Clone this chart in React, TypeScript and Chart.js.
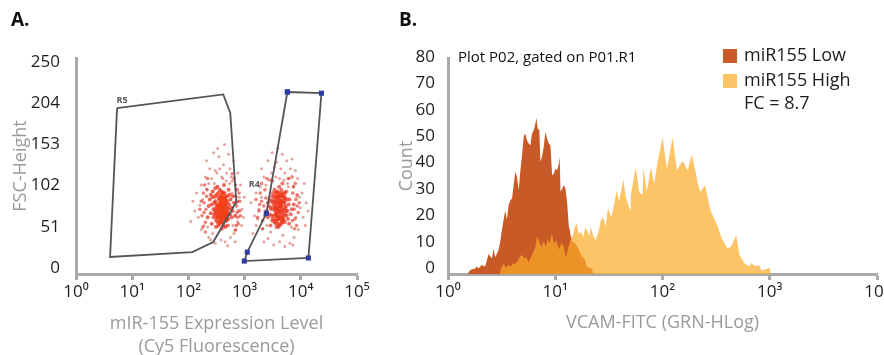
import React, { useEffect, useRef } from 'react';
import { Chart, registerables } from 'chart.js';

Chart.register(...registerables);

const FONT = '"Open Sans", "Noto Sans", "DejaVu Sans", sans-serif';
const AXIS_GREY = '#a9a9a9';
const TITLE_GREY = '#9a9a9a';
const TICK_BLACK = '#1e1e1e';

// ---------- Panel A : scatter (mIR-155 expression vs FSC-Height) ----------
const expressionTicks = [1, 10, 100, 1000, 10000, 100000];
const expressionTickLabels = ['10⁰', '10¹', '10²', '10³', '10⁴', '10⁵'];
const fscTicks = [0, 51, 102, 153, 204, 255];
const fscTickLabels = ['0', '51', '102', '153', '204', '250'];

// low-expression population (x: Cy5 fluorescence, y: FSC-Height)
const lowPopulationCenter: [number, number][] = [
  [330, 80], [360, 74], [395, 84], [425, 78], [455, 86], [480, 72], [350, 94], [410, 90], [440, 66], [370, 68],
  [320, 86], [390, 72], [460, 96], [500, 82], [340, 100], [420, 70], [380, 92], [470, 78], [310, 76], [430, 84],
  [360, 88], [405, 66], [450, 92], [395, 98], [345, 70], [485, 90], [415, 80], [375, 82], [335, 64], [440, 76],
  [300, 96], [510, 74], [365, 78], [425, 94], [455, 70], [390, 88], [350, 84], [475, 66], [410, 74], [320, 70],
];
const lowPopulationCore: [number, number][] = [
  [300, 78], [350, 85], [410, 72], [460, 90], [380, 64], [520, 80], [270, 95], [330, 70], [440, 100], [390, 88],
  [250, 75], [480, 68], [560, 92], [310, 58], [420, 82], [360, 104], [290, 88], [500, 60], [400, 95], [340, 76],
  [450, 74], [230, 84], [610, 78], [370, 66], [430, 110], [280, 70], [530, 86], [320, 98], [470, 80], [390, 56],
  [260, 62], [350, 92], [410, 64], [590, 70], [300, 106], [440, 86], [380, 78], [490, 96], [240, 92], [330, 84],
  [460, 66], [360, 72], [520, 104], [280, 80], [420, 94], [650, 88], [310, 66], [400, 76], [550, 74], [270, 102],
  [370, 96], [480, 88], [340, 60], [430, 70], [220, 70], [300, 90], [510, 68], [390, 102], [450, 58], [350, 80],
  [620, 96], [260, 86], [420, 60], [370, 84], [330, 108], [470, 74], [290, 74], [540, 98], [400, 86], [310, 82],
  [440, 92], [360, 62], [580, 82], [250, 98], [490, 76], [380, 70], [410, 100], [320, 74], [680, 72], [460, 84],
];
const lowPopulationFlank: [number, number][] = [
  [175, 72], [190, 88], [200, 64], [185, 100], [205, 80], [195, 110], [180, 58], [210, 96], [170, 90], [200, 52],
  [215, 104], [190, 76], [720, 84], [760, 70], [700, 96], [790, 78], [740, 104], [710, 60], [820, 90], [690, 110],
  [770, 62], [730, 76], [800, 100], [680, 54], [750, 90], [160, 80], [840, 72], [220, 118], [650, 118], [600, 124],
];
const lowPopulationHalo: [number, number][] = [
  [150, 70], [180, 92], [200, 120], [170, 55], [210, 140], [240, 130], [280, 150], [350, 145], [420, 135], [480, 125],
  [600, 115], [700, 105], [800, 95], [900, 80], [750, 65], [650, 50], [560, 45], [450, 40], [380, 42], [300, 38],
  [230, 45], [190, 60], [160, 85], [130, 78], [140, 100], [260, 118], [320, 125], [390, 120], [550, 130], [620, 60],
  [720, 88], [850, 110], [950, 70], [680, 40], [500, 35], [270, 50], [210, 105], [120, 90], [330, 155], [440, 160],
  [520, 148], [360, 130], [290, 112], [580, 120], [760, 125], [880, 60], [980, 95], [230, 112], [170, 110], [640, 140],
  [410, 118], [300, 128], [470, 115], [540, 112], [220, 58], [600, 100], [700, 55], [250, 42], [830, 78], [110, 65],
];
// high-expression population
const highPopulationCenter: [number, number][] = [
  [3500, 82], [3900, 76], [4300, 86], [4700, 78], [5100, 90], [3700, 94], [4100, 70], [4500, 98], [3300, 72], [4900, 66],
  [3600, 88], [4000, 84], [4400, 74], [5300, 82], [3800, 102], [4200, 92], [4600, 64], [3400, 96], [5000, 72], [3900, 68],
  [4300, 100], [3700, 80], [4800, 88], [3500, 66], [4100, 96], [5200, 100], [3600, 74], [4400, 84], [4000, 62], [4700, 70],
  [3200, 88], [5500, 78], [3800, 90], [4500, 80], [4200, 68], [3600, 100], [4900, 94], [4000, 78], [3400, 80], [4600, 90],
];
const highPopulationCore: [number, number][] = [
  [3600, 74], [4200, 88], [3100, 66], [5000, 80], [2800, 92], [4500, 62], [3900, 100], [5600, 72], [3300, 84], [4700, 96],
  [2600, 70], [6100, 86], [3700, 58], [4300, 76], [5300, 94], [3000, 80], [4100, 108], [3500, 90], [4900, 68], [2900, 60],
  [5800, 78], [3800, 82], [4400, 70], [3200, 100], [5100, 88], [2700, 84], [6600, 74], [4000, 94], [3400, 64], [4600, 84],
  [5500, 102], [3000, 72], [4800, 76], [3700, 96], [4200, 60], [6300, 92], [2500, 78], [3900, 72], [5200, 64], [3300, 92],
  [4500, 104], [3600, 86], [5900, 68], [2800, 74], [4100, 80], [4700, 112], [3100, 96], [5400, 84], [3800, 66], [4400, 90],
  [6900, 80], [3500, 78], [4000, 58], [2600, 88], [5000, 96], [3200, 68], [4300, 84], [5700, 92], [3700, 70], [4800, 100],
  [2900, 82], [4600, 66], [3400, 104], [6200, 62], [3900, 88], [5300, 74], [3000, 90], [4200, 96], [7500, 86], [3600, 62],
];
const highPopulationFlank: [number, number][] = [
  [1800, 78], [2000, 90], [2100, 66], [1900, 100], [2200, 84], [2300, 104], [1700, 70], [2100, 56], [2400, 94], [2000, 112],
  [2300, 72], [1850, 86], [7600, 80], [8200, 92], [7900, 68], [8700, 84], [7200, 100], [8400, 60], [7400, 108], [9000, 76],
  [8000, 112], [7700, 56], [8600, 98], [7100, 66], [9400, 88], [1600, 92], [2500, 118], [7000, 120], [6000, 118], [3000, 116],
];
const highPopulationHalo: [number, number][] = [
  [1400, 50], [1700, 68], [2000, 95], [2200, 120], [2600, 140], [3100, 150], [3700, 138], [4400, 130], [5200, 125], [6200, 118],
  [7400, 108], [8500, 96], [9800, 82], [11000, 70], [9000, 55], [7600, 45], [6400, 38], [5200, 34], [4200, 40], [3300, 36],
  [2600, 44], [2100, 56], [1800, 80], [1500, 72], [1600, 100], [2400, 110], [3000, 125], [3600, 120], [5600, 140], [6800, 58],
  [8000, 128], [10500, 100], [12500, 88], [7200, 36], [4800, 48], [2900, 52], [2300, 78], [1300, 88], [3900, 155], [4700, 148],
  [5800, 112], [3400, 132], [2700, 116], [6000, 108], [8800, 118], [12000, 60], [13500, 78], [2000, 130], [1900, 108], [7000, 142],
  [4200, 118], [3200, 115], [5000, 116], [8200, 70], [2500, 60], [9500, 95], [1600, 60], [11500, 112], [2200, 40], [6500, 130],
];
// gate polygons (vertices, closed)
const gateR5: [number, number][] = [
  [5.38, 205], [417, 222], [556, 199], [711, 89], [277, 39.5], [117, 27], [4.04, 21], [5.38, 205],
];
const gateR4: [number, number][] = [
  [5770, 225], [23300, 223.5], [13650, 19.8], [988, 16], [1117, 27], [2437, 75], [5770, 225],
];
const gateLabels = [
  { text: 'R5', x: 6.6, y: 214 },
  { text: 'R4', x: 1490, y: 111 },
];

// ---------- Panel B : histogram (VCAM-FITC) ----------
const vcamTicks = [1, 10, 100, 1000, 10000];
const vcamTickLabels = ['10⁰', '10¹', '10²', '10³', '10⁴'];
const countTicks = [0, 10, 20, 30, 40, 50, 60, 70, 80];

const lowBinX = [
  1.52, 1.61, 1.79, 1.86, 1.92, 2.07, 2.22, 2.39, 2.57, 2.66,
  2.76, 2.96, 3.07, 3.18, 3.30, 3.42, 3.54, 3.67, 3.81, 3.95,
  4.09, 4.24, 4.40, 4.56, 4.72, 4.90, 5.08, 5.26, 5.45, 5.65,
  5.86, 6.07, 6.30, 6.53, 6.67, 6.86, 7.11, 7.27, 7.53, 7.81,
  8.09, 8.39, 8.70, 9.02, 9.35, 9.69, 10.04, 10.41, 10.79, 11.0,
  11.19, 11.60, 12.02, 12.46, 12.92, 13.39, 13.66, 13.88, 14.39, 15.46,
  16.61, 17.85, 18.8, 19.6, 21.36, 22.14, 22.5,
];
const lowCounts = [
  0, 1.5, 2.1, 2.8, 2.1, 3.4, 2.8, 7.6, 5.9, 9.7,
  6.4, 9.1, 12.2, 16.7, 20.5, 24.2, 20.5, 26.1, 28.0, 28.7,
  33.7, 38.8, 36.9, 31.8, 38.8, 45.2, 52.1, 53.3, 50.8, 49.5,
  48.9, 53.3, 54.6, 57.1, 59.3, 55.2, 54.6, 42.6, 44.5, 48.3,
  54.0, 51.4, 49.5, 48.9, 37.5, 38.1, 40.0, 39.4, 41.9, 44.5,
  31.2, 32.4, 33.7, 32.4, 26.8, 17.9, 16.7, 14.8, 12.2, 11.6,
  9.1, 6.4, 5.9, 2.8, 2.1, 1.8, 0,
];
const highBinX = [
  3.05, 3.13, 3.30, 3.47, 3.67, 3.87, 4.03, 4.24, 4.46, 4.72,
  4.93, 5.15, 5.37, 5.65, 5.94, 6.20, 6.53, 6.77, 7.03, 7.38,
  7.81, 8.15, 8.51, 8.89, 9.28, 9.69, 10.26, 10.87, 11.43, 12.02,
  12.55, 13.11, 13.88, 14.60, 15.24, 15.80, 16.61, 17.47, 18.24, 19.04,
  19.88, 20.76, 21.36, 22.6, 23.8, 25.6, 26.5, 28.1, 29.5, 31.0,
  33.4, 34.8, 37.4, 39.3, 43.2, 45.4, 49.9, 50.6, 56.4, 60.5,
  65.1, 66.5, 71.4, 77.8, 83.7, 89.9, 100.2, 110.0, 124.2, 136.4,
  154.2, 171.8, 187.4, 205.5, 213.1, 225.4, 249.5, 279.8, 328.1, 352.2,
  400.9, 436.7, 486.5, 522.6, 582, 648.6, 672.6, 722.3, 804.4, 834.4,
  1000, 1019,
];
const highCounts = [
  0, 2.5, 3.8, 2.5, 3.4, 2.8, 4.1, 3.8, 5.1, 6.6,
  7.2, 5.9, 6.4, 4.6, 6.4, 8.1, 10.3, 14.1, 12.6, 10.3,
  12.2, 10.3, 13.1, 11.6, 15.6, 11.6, 12.6, 9.3, 11.9, 10.3,
  6.4, 9.3, 12.9, 14.8, 17.9, 19.2, 15.2, 16.0, 13.9, 17.7,
  16.4, 14.4, 17.9, 14.5, 12.9, 16.7, 20.2, 21.5, 17.9, 24.9,
  21.5, 24.9, 31.8, 27.4, 35.9, 29.3, 24.2, 29.9, 40.4, 31.2,
  29.9, 40.4, 31.2, 40.4, 34.3, 42.5, 51.8, 40.0, 51.8, 39.4,
  42.9, 39.4, 45.5, 38.1, 34.3, 31.2, 33.7, 24.2, 17.9, 14.1,
  9.7, 10.4, 14.8, 7.2, 4.0, 2.8, 4.3, 3.0, 3.2, 1.3,
  2.3, 0,
];
const seriesNames = ['miR155 Low', 'miR155 High'];
const foldChangeText = 'FC = 8.7';
const plotNote = 'Plot P02, gated on P01.R1';

const LOW_COLOR = '#c85a28';
const HIGH_FILL = 'rgba(251, 171, 38, 0.7)';
const HIGH_LEGEND = '#fcc467';

const toPoints = (arr: [number, number][]) => arr.map(([x, y]) => ({ x, y }));
const zipPoints = (xs: number[], ys: number[]) => xs.map((x, i) => ({ x, y: ys[i] }));

const gateLabelPlugin = {
  id: 'gateLabels',
  afterDatasetsDraw(chart: any) {
    const { ctx, scales } = chart;
    ctx.save();
    ctx.font = `bold 9px ${FONT}`;
    ctx.fillStyle = '#5a5a5a';
    ctx.textAlign = 'center';
    ctx.textBaseline = 'middle';
    gateLabels.forEach((g) => {
      ctx.fillText(g.text, scales.x.getPixelForValue(g.x), scales.y.getPixelForValue(g.y));
    });
    ctx.restore();
  },
};

const legendPlugin = {
  id: 'histLegend',
  afterDraw(chart: any) {
    const { ctx, chartArea } = chart;
    ctx.save();
    ctx.textAlign = 'left';
    ctx.textBaseline = 'middle';
    ctx.fillStyle = '#111';
    ctx.font = `15px ${FONT}`;
    ctx.fillText(plotNote, chartArea.left + 10, 58);
    const colors = [LOW_COLOR, HIGH_LEGEND];
    ctx.font = `18px ${FONT}`;
    seriesNames.forEach((name, i) => {
      ctx.fillStyle = colors[i];
      ctx.fillRect(343, 49 + i * 25, 14, 14);
      ctx.fillStyle = '#1e1e1e';
      ctx.fillText(name, 364, 56 + i * 25);
    });
    ctx.fillText(foldChangeText, 364, 104);
    ctx.restore();
  },
};

function fixedTicks(values: number[]) {
  return (axis: any) => {
    axis.ticks = values.map((v) => ({ value: v }));
  };
}
function labelFor(values: number[], labels: string[]) {
  return (v: any) => {
    const i = values.indexOf(Number(v));
    return i >= 0 ? labels[i] : '';
  };
}

const dots = (label: string, pts: [number, number][], r: number, color: string) => ({
  label,
  data: toPoints(pts),
  pointRadius: r,
  pointBackgroundColor: color,
  pointBorderWidth: 0,
});

function ScatterPanel() {
  const ref = useRef<HTMLCanvasElement>(null);
  useEffect(() => {
    if (!ref.current) return;
    const chart = new Chart(ref.current, {
      type: 'scatter',
      data: {
        datasets: [
          {
            label: 'R4',
            data: toPoints(gateR4),
            showLine: true,
            borderColor: '#555555',
            borderWidth: 1.8,
            pointStyle: 'rect',
            pointRadius: 3.6,
            pointBackgroundColor: '#2f3c9e',
            pointBorderColor: '#2f3c9e',
            pointBorderWidth: 0,
          },
          {
            label: 'R5',
            data: toPoints(gateR5),
            showLine: true,
            borderColor: '#555555',
            borderWidth: 1.8,
            pointRadius: 0,
          },
          dots('low center', lowPopulationCenter, 2.1, 'rgba(242, 62, 20, 0.8)'),
          dots('high center', highPopulationCenter, 2.1, 'rgba(238, 55, 22, 0.75)'),
          dots('low core', lowPopulationCore, 2.0, 'rgba(228, 38, 22, 0.7)'),
          dots('high core', highPopulationCore, 2.0, 'rgba(226, 40, 24, 0.65)'),
          dots('low flank', lowPopulationFlank, 1.8, 'rgba(222, 45, 30, 0.6)'),
          dots('high flank', highPopulationFlank, 1.8, 'rgba(222, 45, 30, 0.6)'),
          dots('low halo', lowPopulationHalo, 1.5, 'rgba(205, 70, 60, 0.5)'),
          dots('high halo', highPopulationHalo, 1.5, 'rgba(205, 70, 60, 0.5)'),
        ],
      },
      options: {
        responsive: false,
        animation: false,
        devicePixelRatio: 1,
        layout: { padding: { left: 0, right: 23, top: 58, bottom: 0 } },
        plugins: { legend: { display: false }, tooltip: { enabled: false } },
        scales: {
          x: {
            type: 'logarithmic',
            min: 1,
            max: 100000,
            afterBuildTicks: fixedTicks(expressionTicks),
            afterFit: (s: any) => { s.height = 96; },
            border: { display: true, color: AXIS_GREY, width: 3 },
            grid: { drawOnChartArea: false, drawTicks: true, tickLength: 6, tickWidth: 3, tickColor: AXIS_GREY, color: AXIS_GREY },
            ticks: {
              autoSkip: false,
              maxRotation: 0,
              padding: 2,
              color: TICK_BLACK,
              font: { family: FONT, size: 17 },
              callback: labelFor(expressionTicks, expressionTickLabels),
            },
            title: {
              display: true,
              text: ['mIR-155 Expression Level', '(Cy5 Fluorescence)'],
              color: TITLE_GREY,
              font: { family: FONT, size: 18, lineHeight: 1.3 },
              padding: { top: 0, bottom: 11 },
            },
          },
          y: {
            type: 'linear',
            min: 0,
            max: 267,
            afterBuildTicks: fixedTicks(fscTicks),
            afterFit: (s: any) => { s.width = 76; },
            border: { display: true, color: AXIS_GREY, width: 3 },
            grid: { display: false },
            ticks: {
              padding: 8,
              labelOffset: -6,
              color: TICK_BLACK,
              font: { family: FONT, size: 17 },
              callback: labelFor(fscTicks, fscTickLabels),
            },
            title: {
              display: true,
              text: 'FSC-Height',
              color: TITLE_GREY,
              font: { family: FONT, size: 18, lineHeight: 1.3 },
              padding: { top: 9, bottom: 0 },
            },
          },
        },
      },
      plugins: [gateLabelPlugin],
    } as any);
    return () => chart.destroy();
  }, []);
  return <canvas ref={ref} width={380} height={370} style={{ position: 'absolute', left: 0, top: 0 }} />;
}

function HistogramPanel() {
  const ref = useRef<HTMLCanvasElement>(null);
  useEffect(() => {
    if (!ref.current) return;
    const chart = new Chart(ref.current, {
      type: 'line',
      data: {
        datasets: [
          {
            label: seriesNames[1],
            data: zipPoints(highBinX, highCounts),
            fill: 'start',
            backgroundColor: HIGH_FILL,
            borderWidth: 0,
            pointRadius: 0,
            tension: 0,
          },
          {
            label: seriesNames[0],
            data: zipPoints(lowBinX, lowCounts),
            fill: 'start',
            backgroundColor: LOW_COLOR,
            borderWidth: 0,
            pointRadius: 0,
            tension: 0,
          },
        ],
      },
      options: {
        responsive: false,
        animation: false,
        devicePixelRatio: 1,
        layout: { padding: { left: 0, right: 43, top: 58, bottom: 0 } },
        plugins: { legend: { display: false }, tooltip: { enabled: false } },
        scales: {
          x: {
            type: 'logarithmic',
            min: 1,
            max: 10000,
            afterBuildTicks: fixedTicks(vcamTicks),
            afterFit: (s: any) => { s.height = 96; },
            border: { display: true, color: AXIS_GREY, width: 3 },
            grid: { drawOnChartArea: false, drawTicks: true, tickLength: 6, tickWidth: 3, tickColor: AXIS_GREY, color: AXIS_GREY },
            ticks: {
              autoSkip: false,
              maxRotation: 0,
              padding: 2,
              color: TICK_BLACK,
              font: { family: FONT, size: 17 },
              callback: labelFor(vcamTicks, vcamTickLabels),
            },
            title: {
              display: true,
              text: 'VCAM-FITC (GRN-HLog)',
              color: TITLE_GREY,
              font: { family: FONT, size: 18, lineHeight: 1.3 },
              padding: { top: 0, bottom: 35 },
            },
          },
          y: {
            type: 'linear',
            min: 0,
            max: 82,
            afterBuildTicks: fixedTicks(countTicks),
            afterFit: (s: any) => { s.width = 68; },
            border: { display: true, color: AXIS_GREY, width: 3 },
            grid: { display: false },
            ticks: {
              padding: 5,
              labelOffset: -6,
              color: TICK_BLACK,
              font: { family: FONT, size: 17 },
            },
            title: {
              display: true,
              text: 'Count',
              color: TITLE_GREY,
              font: { family: FONT, size: 18, lineHeight: 1.3 },
              padding: { top: 15, bottom: 0 },
            },
          },
        },
      },
      plugins: [legendPlugin],
    } as any);
    return () => chart.destroy();
  }, []);
  return <canvas ref={ref} width={540} height={370} style={{ position: 'absolute', left: 380, top: 0 }} />;
}

const panelLetter: React.CSSProperties = {
  position: 'absolute',
  top: 8,
  fontFamily: FONT,
  fontWeight: 700,
  fontSize: 19,
  lineHeight: '22px',
  color: '#111',
};

export default function App() {
  return (
    <div
      style={{
        position: 'fixed',
        left: 0,
        top: 0,
        width: 884,
        height: 355,
        overflow: 'hidden',
        background: '#fff',
      }}
    >
      <ScatterPanel />
      <HistogramPanel />
      <div style={{ ...panelLetter, left: 11 }}>A.</div>
      <div style={{ ...panelLetter, left: 399 }}>B.</div>
    </div>
  );
}
